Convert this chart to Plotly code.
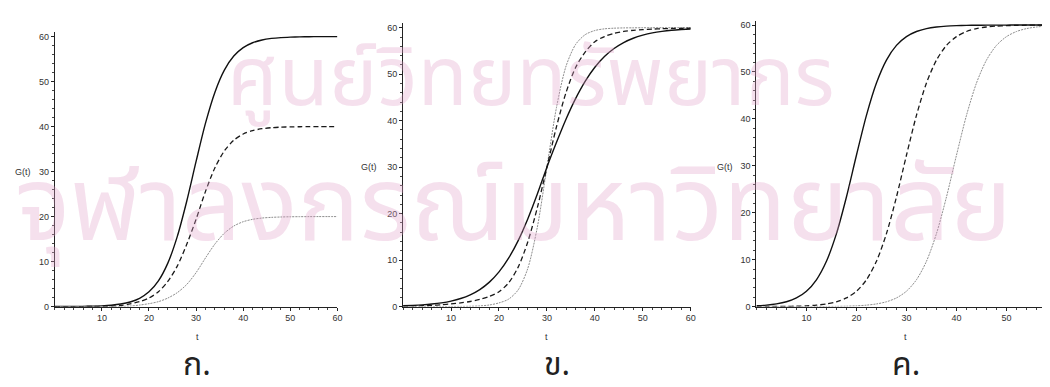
import plotly.graph_objects as go

# ---- data ----
t = [0, 2, 4, 6, 8, 10, 12, 14, 16, 18, 20, 22, 24, 26, 28, 30,
     32, 34, 36, 38, 40, 42, 44, 46, 48, 50, 52, 54, 56, 58, 60]

# panel ก. : different carrying capacities (60, 40, 20)
a_solid = [0.01, 0.02, 0.03, 0.05, 0.09, 0.17, 0.31, 0.57, 1.03, 1.85, 3.28, 5.72, 9.66, 15.55, 23.36, 32.25,
           40.75, 47.64, 52.53, 55.66, 57.53, 58.62, 59.24, 59.58, 59.77, 59.87, 59.93, 59.96, 59.98, 59.99, 59.99]
a_dash = [0.0, 0.0, 0.01, 0.02, 0.03, 0.06, 0.12, 0.25, 0.6, 1.1, 1.9, 3.3, 5.6, 9.0, 13.8, 19.4,
          25.6, 30.86, 34.59, 36.96, 38.34, 39.10, 39.52, 39.75, 39.87, 39.93, 39.96, 39.98, 39.99, 40.0, 40.0]
a_dot = [0.0, 0.0, 0.0, 0.0, 0.01, 0.02, 0.03, 0.06, 0.12, 0.35, 0.65, 1.1, 1.9, 3.1, 4.9, 7.55,
         10.82, 13.91, 16.31, 17.90, 18.86, 19.39, 19.68, 19.83, 19.91, 19.96, 19.98, 19.99, 20.0, 20.0, 20.0]

# panel ข. : different growth rates, same midpoint
b_solid = [0.17, 0.25, 0.37, 0.55, 0.81, 1.19, 1.74, 2.54, 3.67, 5.27, 7.47, 10.42, 14.21, 18.86, 24.22, 30.0,
           35.34, 40.36, 44.79, 48.51, 51.49, 53.80, 55.53, 56.81, 57.74, 58.40, 58.88, 59.21, 59.45, 59.61, 59.73]
b_dash = [0.10, 0.14, 0.2, 0.28, 0.4, 0.58, 0.8, 1.1, 1.55, 2.2, 3.2, 5.1, 8.5, 13.9, 21.3, 30.0,
          38.74, 46.11, 51.49, 54.8, 57.0, 58.1, 58.8, 59.2, 59.45, 59.6, 59.7, 59.78, 59.84, 59.88, 59.9]
b_dot = [0.0, 0.0, 0.0, 0.0, 0.01, 0.02, 0.04, 0.07, 0.15, 0.35, 0.8, 1.6, 3.6, 8.2, 17.1, 30.0,
         42.9, 51.78, 56.43, 58.52, 59.40, 59.76, 59.90, 59.96, 59.98, 60.0, 60.0, 60.0, 60.0, 60.0, 60.0]

# panel ค. : different midpoints
c_solid = [0.17, 0.31, 0.57, 1.03, 1.85, 3.28, 5.72, 9.66, 15.55, 23.36, 32.25, 40.75, 47.64, 52.53, 55.66, 57.53,
           58.62, 59.24, 59.58, 59.77, 59.87, 59.93, 59.96, 59.98, 59.99, 59.99, 60.0, 60.0, 60.0, 60.0, 60.0]
c_dash = [0.01, 0.02, 0.03, 0.05, 0.09, 0.17, 0.31, 0.57, 1.03, 1.85, 3.28, 5.72, 9.66, 15.55, 23.36, 32.25,
          40.75, 47.64, 52.53, 55.66, 57.53, 58.62, 59.24, 59.58, 59.77, 59.87, 59.93, 59.96, 59.98, 59.99, 59.99]
c_dot = [0.0, 0.0, 0.0, 0.0, 0.0, 0.01, 0.02, 0.03, 0.05, 0.09, 0.17, 0.31, 0.57, 1.03, 1.85, 3.28,
         5.72, 9.66, 15.55, 23.36, 32.25, 40.75, 47.64, 52.53, 55.66, 57.53, 58.62, 59.24, 59.58, 59.77, 59.87]

y_ticks = [0, 10, 20, 30, 40, 50, 60]
x_ticks = [10, 20, 30, 40, 50, 60]
panel_labels = ["ก.", "ข.", "ค."]
watermark_lines = ["ศูนย์วิทยทรัพยากร", "จุฬาลงกรณ์มหาวิทยาลัย"]

W, H = 1050, 387

# pixel geometry of each panel: (x0_px, x_px_per_unit, y0_px, y_top_px, y_range_top)
geom = [
    (47, 4.733, 302.3, 23.4, 61.0),
    (397, 4.817, 302.3, 14.3, 61.0),
    (752, 5.025, 302.3, 12.0, 60.9),
]

fig = go.Figure()
panels = [(a_solid, a_dash, a_dot), (b_solid, b_dash, b_dot), (c_solid, c_dash, c_dot)]

tickfont = dict(family="Liberation Sans, Arial, sans-serif", size=9, color="#333")

for i, (s, d, o) in enumerate(panels):
    xa = "x" if i == 0 else f"x{i+1}"
    ya = "y" if i == 0 else f"y{i+1}"
    common = dict(xaxis=xa, yaxis=ya, mode="lines", showlegend=False, hoverinfo="skip")
    fig.add_trace(go.Scatter(x=t, y=o, line=dict(color="#8c8c8c", width=1, dash="2px,1px",
                                                 shape="spline", smoothing=0.8), **common))
    fig.add_trace(go.Scatter(x=t, y=d, line=dict(color="#1a1a1a", width=1.3, dash="5px,3px",
                                                 shape="spline", smoothing=0.8), **common))
    fig.add_trace(go.Scatter(x=t, y=s, line=dict(color="#111", width=1.4,
                                                 shape="spline", smoothing=0.8), **common))

    x0, ppu, y0, ytop, yr = geom[i]
    x1 = min(x0 + 60 * ppu, W)
    xmax = (x1 - x0) / ppu
    xkey = "xaxis" if i == 0 else f"xaxis{i+1}"
    ykey = "yaxis" if i == 0 else f"yaxis{i+1}"
    fig.layout[xkey] = dict(
        domain=[x0 / W, x1 / W], anchor=ya, range=[0, xmax],
        showgrid=False, zeroline=False, showline=True, linecolor="#222", linewidth=1,
        tickmode="array", tickvals=x_ticks, ticks="outside", ticklen=3, tickcolor="#222",
        tickfont=tickfont, minor=dict(dtick=2, ticks="outside", ticklen=2, tickcolor="#444"),
    )
    fig.layout[ykey] = dict(
        domain=[1 - y0 / H, 1 - ytop / H], anchor=xa, range=[0, yr],
        showgrid=False, zeroline=False, showline=True, linecolor="#222", linewidth=1,
        tickmode="array", tickvals=y_ticks, ticks="outside", ticklen=3, tickcolor="#222",
        tickfont=tickfont, minor=dict(dtick=2, ticks="outside", ticklen=2, tickcolor="#444"),
    )

annotations = []
# watermark
wm_font = "Noto Sans Thai, Noto Serif Thai, Loma, Garuda, Noto Sans, sans-serif"
wm_color = "rgba(225,160,200,0.33)"
annotations.append(dict(text=watermark_lines[0], x=525 / W, y=1 - 72 / H, xref="paper", yref="paper",
                        xanchor="center", yanchor="middle", showarrow=False,
                        font=dict(family=wm_font, size=82, color=wm_color)))
annotations.append(dict(text=watermark_lines[1], x=508 / W, y=1 - 203 / H, xref="paper", yref="paper",
                        xanchor="center", yanchor="middle", showarrow=False,
                        font=dict(family=wm_font, size=104, color=wm_color)))

gt_pos = [(15, 166), (363, 160), (720, 160)]
t_pos = [(190, 333), (541, 333), (902, 333)]
lab_pos = [(190, 362), (552, 362), (902, 362)]
lab_font = "Noto Sans Thai, Noto Serif Thai, Loma, Garuda, sans-serif"
for i in range(3):
    annotations.append(dict(text="G(t)", x=gt_pos[i][0] / W, y=1 - gt_pos[i][1] / H, xref="paper", yref="paper",
                            xanchor="center", yanchor="middle", showarrow=False,
                            font=dict(family="Liberation Sans, Arial", size=9, color="#333")))
    annotations.append(dict(text="t", x=t_pos[i][0] / W, y=1 - t_pos[i][1] / H, xref="paper", yref="paper",
                            xanchor="center", yanchor="middle", showarrow=False,
                            font=dict(family="Liberation Sans, Arial", size=9, color="#333")))
    annotations.append(dict(text=panel_labels[i], x=lab_pos[i][0] / W, y=1 - lab_pos[i][1] / H,
                            xref="paper", yref="paper", xanchor="center", yanchor="middle", showarrow=False,
                            font=dict(family=lab_font, size=32, color="#222")))

fig.update_layout(
    width=W, height=H, margin=dict(l=0, r=0, t=0, b=0),
    paper_bgcolor="white", plot_bgcolor="rgba(0,0,0,0)",
    annotations=annotations,
)

fig.write_html("out.html")
